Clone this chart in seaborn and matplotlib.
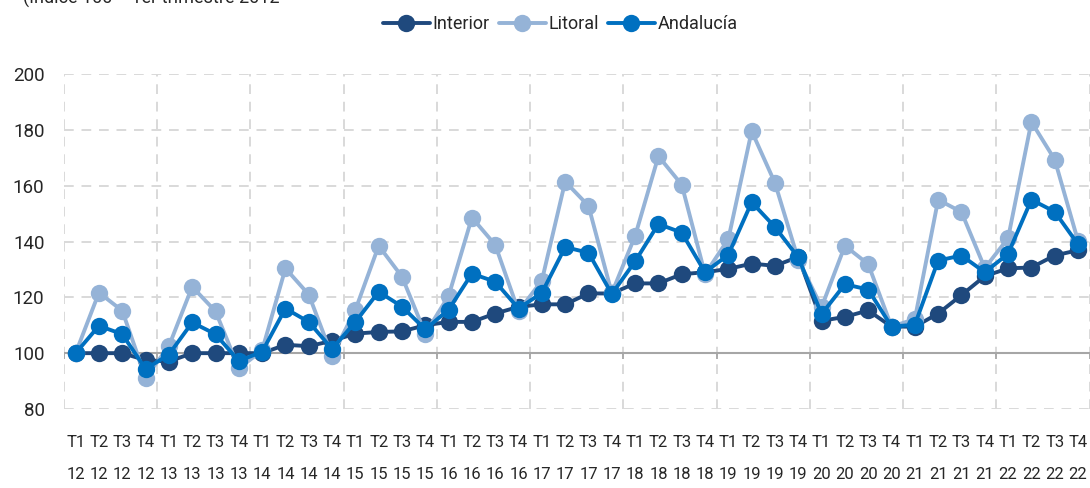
''' Evolucion trimestral del indice: Interior, Litoral y Andalucia '''

import matplotlib
matplotlib.use("Agg")
import matplotlib.pyplot as plt
import numpy as np
import pandas as pd
import seaborn as sns

# Datos (Indice 100 = 1er trimestre 2012)
trimestres = ["T1", "T2", "T3", "T4"]
anios = ["12", "13", "14", "15", "16", "17", "18", "19", "20", "21", "22"]

interior = [100, 100, 100, 97.5, 97, 100, 100, 100, 100, 103, 102.5, 104.4,
            107, 107.6, 107.8, 110, 111.2, 111.2, 114.2, 116.6, 117.5, 117.5, 121.4, 121.4,
            125, 125, 128.3, 129, 130.2, 132.1, 131.3, 134.5, 111.6, 113, 115.3, 109.5,
            109.5, 114.2, 120.8, 127.6, 130.4, 130.7, 135, 136.9]
litoral = [100, 121.7, 115.2, 91.2, 102.5, 123.8, 115, 94.5, 101, 130.4, 121, 99,
           115.5, 138.5, 127.4, 107, 120.5, 148.6, 138.8, 115, 126, 161.5, 152.8, 121.5,
           142, 170.6, 160.4, 128.3, 140.9, 179.6, 161, 133.5, 116.5, 138.5, 131.9, 109.5,
           112.2, 155, 150.6, 130.5, 141.2, 182.9, 169.4, 140.2]
andalucia = [100, 109.8, 106.8, 94.3, 99.5, 111, 106.8, 97.2, 100.5, 116, 111.2, 101.5,
             111.2, 122, 116.7, 108.5, 115.6, 128.5, 125.6, 116, 121.6, 138, 136, 121.2,
             132.9, 146.3, 143.2, 129, 135.3, 154.1, 145.2, 134.3, 114, 124.7, 122.8, 109.5,
             110.2, 133.2, 135, 129, 135.6, 155, 150.7, 139]

series = {"Interior": interior, "Litoral": litoral, "Andalucía": andalucia}
colores = {"Interior": "#1F497D", "Litoral": "#95B3D7", "Andalucía": "#0070C0"}

FUENTE = ["Roboto", "DejaVu Sans"]


def construir_tabla():
    ''' Pasa las series a formato largo para seaborn '''
    etiquetas = [f"{t}\n{a}" for a in anios for t in trimestres]
    filas = []
    for zona, valores in series.items():
        for i, v in enumerate(valores):
            filas.append({"idx": i, "valor": v, "zona": zona})
    return pd.DataFrame(filas), etiquetas


def main():
    sns.set_style("white")
    plt.rcParams["font.family"] = FUENTE

    df, etiquetas = construir_tabla()
    n = len(etiquetas)

    fig = plt.figure(figsize=(10.9, 4.88), dpi=100)
    ax = fig.add_axes([0.0587, 0.162, 0.941, 0.686])

    # rejilla discontinua
    for y in [80, 120, 140, 160, 180, 200]:
        ax.axhline(y, color="#D9D9D9", lw=1.4, ls=(0, (5, 4)), zorder=0)
    for xb in np.arange(-0.5, n, 4):
        ax.axvline(xb, color="#D9D9D9", lw=1.4, ls=(0, (5, 4)), zorder=0)
    ax.axhline(100, color="#A6A6A6", lw=1.5, zorder=1)
    ax.vlines(np.arange(-0.5, n, 4), 97.8, 100, color="#A6A6A6", lw=1.3, zorder=1)

    sns.lineplot(data=df, x="idx", y="valor", hue="zona", palette=colores,
                 marker="o", markersize=12.5, markeredgewidth=0, linewidth=2.8,
                 ax=ax, zorder=3)

    ax.set_xlim(-0.5, n - 0.5)
    ax.set_ylim(80, 200)
    ax.set_yticks(range(80, 201, 20))
    ax.set_xticks(range(n))
    ax.set_xticklabels(etiquetas, linespacing=2.4)
    ax.tick_params(axis="x", length=0, pad=19, labelsize=12, labelcolor="#262626")
    ax.tick_params(axis="y", length=6, color="#D9D9D9", width=1.4, pad=8,
                   labelsize=13.5, labelcolor="#262626")
    ax.set_xlabel("")
    ax.set_ylabel("")
    for s in ax.spines.values():
        s.set_visible(False)

    leg = ax.legend(loc="center", ncol=3, frameon=False, fontsize=13,
                    handlelength=2.6, handletextpad=0.15, columnspacing=0.5,
                    borderaxespad=0)
    leg.set_bbox_to_anchor((0.514, 0.951), transform=fig.transFigure)

    # titulo recortado por el borde superior, como en el original
    fig.text(0.021, 1.008, "(Índice 100 = 1er trimestre 2012", fontsize=13,
             color="#262626", va="center", ha="left")

    fig.savefig("out.png", dpi=100)


if __name__ == "__main__":
    main()
